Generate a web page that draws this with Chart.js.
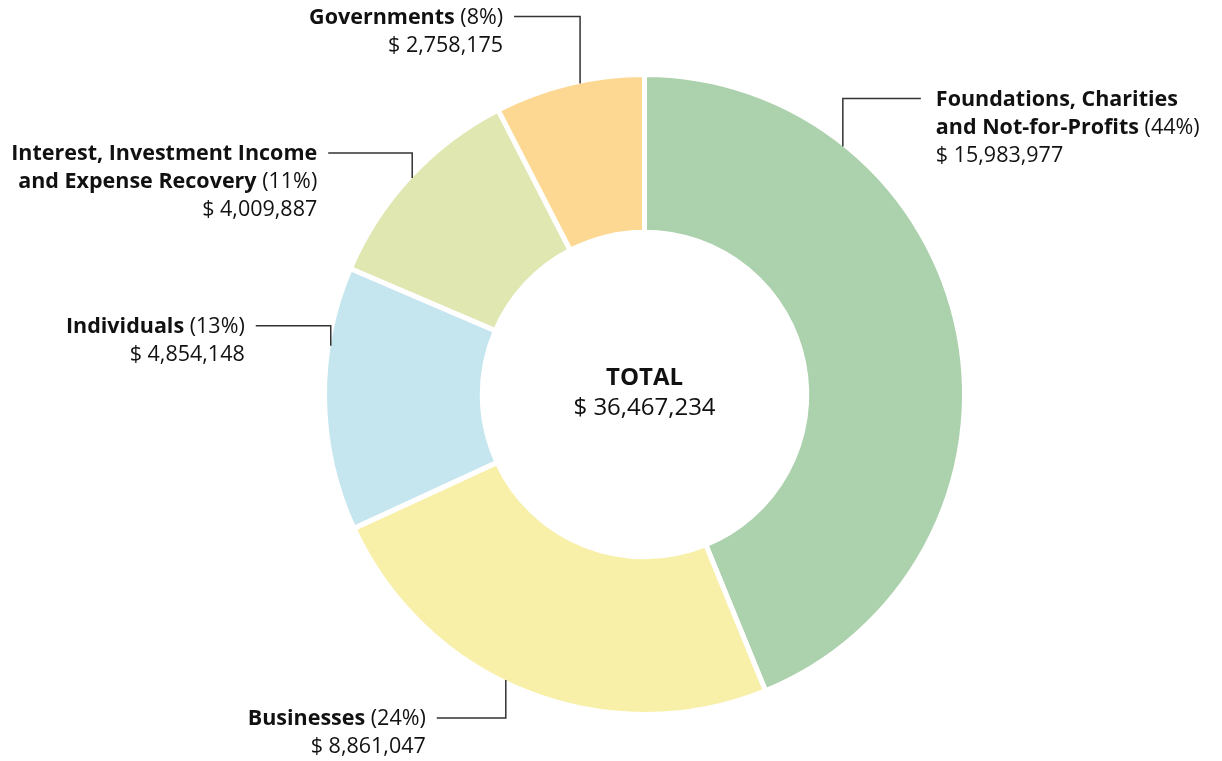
<!DOCTYPE html>
<html>
<head>
<meta charset="utf-8">
<script src="https://cdn.jsdelivr.net/npm/chart.js@4.4.1/dist/chart.umd.min.js"></script>
<style>
  html, body { margin: 0; padding: 0; background: #fff; }
</style>
</head>
<body>
<canvas id="chart" width="1222" height="761"></canvas>
<script>
// Revenue by source - doughnut with elbow leader labels

const categories = [
  ['Foundations, Charities', 'and Not-for-Profits'],
  ['Businesses'],
  ['Individuals'],
  ['Interest, Investment Income', 'and Expense Recovery'],
  ['Governments']
];
const amounts = [15983977, 8861047, 4854148, 4009887, 2758175];
const colors = ['#acd1ad', '#f8f0a9', '#c6e6ef', '#e0e7b1', '#fdd893'];

// leader line layout per slice: where on the slice it leaves, rise, run
const leaders = [
  { frac: 0.245, rise: 48, run: 78, side: 'right' },
  { frac: 0.55, rise: -38, run: -69, side: 'left' },
  { frac: 0.70, rise: 20, run: -75, side: 'left' },
  { frac: 0.50, rise: 25, run: -84, side: 'left' },
  { frac: 0.57, rise: 67, run: -66, side: 'left' }
];

const total = amounts.reduce((a, b) => a + b, 0);
const FONT = '"Open Sans", sans-serif';
const SIZE = 21.5;
const fmt = v => '$ ' + v.toLocaleString('en-US');

const calloutPlugin = {
  id: 'callouts',
  afterDraw(chart) {
    const ctx = chart.ctx;
    const meta = chart.getDatasetMeta(0);
    ctx.save();

    // centre total
    const c = meta.data[0];
    ctx.fillStyle = '#111';
    ctx.textAlign = 'center';
    ctx.textBaseline = 'middle';
    ctx.font = 'bold 24px ' + FONT;
    ctx.fillText('TOTAL', c.x, c.y - 16);
    ctx.font = '24px ' + FONT;
    ctx.fillText(fmt(total), c.x, c.y + 14);

    meta.data.forEach((arc, i) => {
      const p = arc.getProps(['x', 'y', 'startAngle', 'endAngle', 'outerRadius'], true);
      const L = leaders[i];
      const a = p.startAngle + L.frac * (p.endAngle - p.startAngle);
      const r = p.outerRadius - 2.5;
      const ax = p.x + Math.cos(a) * r;
      const ay = p.y + Math.sin(a) * r;
      const ey = ay - L.rise;
      const ex = ax + L.run;

      ctx.strokeStyle = '#333';
      ctx.lineWidth = 1.5;
      ctx.beginPath();
      ctx.moveTo(ax, ay);
      ctx.lineTo(ax, ey);
      ctx.lineTo(ex, ey);
      ctx.stroke();

      const pct = Math.round(amounts[i] / total * 100);
      const name = categories[i];
      const rows = name.map((t, k) => {
        const segs = [{ text: t, bold: true }];
        if (k === name.length - 1) segs.push({ text: ' (' + pct + '%)', bold: false });
        return segs;
      });
      rows.push([{ text: fmt(amounts[i]), bold: false }]);

      ctx.textBaseline = 'middle';
      ctx.textAlign = 'left';
      ctx.fillStyle = '#111';
      rows.forEach((segs, r) => {
        const y = ey + 1 + r * 28;
        const widths = segs.map(s => {
          ctx.font = (s.bold ? 'bold ' : '') + SIZE + 'px ' + FONT;
          return ctx.measureText(s.text).width;
        });
        const w = widths.reduce((a, b) => a + b, 0);
        let x = L.side === 'right' ? ex + 15 : ex - 11 - w;
        segs.forEach((s, k) => {
          ctx.font = (s.bold ? 'bold ' : '') + SIZE + 'px ' + FONT;
          ctx.fillText(s.text, x, y);
          x += widths[k];
        });
      });
    });
    ctx.restore();
  }
};

const ctx = document.getElementById('chart').getContext('2d');
const chart = new Chart(ctx, {
  type: 'doughnut',
  data: {
    labels: categories.map(c => c.join(' ')),
    datasets: [{
      data: amounts,
      backgroundColor: colors,
      borderColor: '#ffffff',
      borderWidth: 5,
      borderAlign: 'center',
      hoverOffset: 0
    }]
  },
  options: {
    responsive: false,
    animation: false,
    cutout: '50.7%',
    layout: { padding: { left: 322, right: 255, top: 72, bottom: 44 } },
    plugins: {
      legend: { display: false },
      tooltip: { enabled: false }
    }
  },
  plugins: [calloutPlugin]
});
</script>
</body>
</html>
